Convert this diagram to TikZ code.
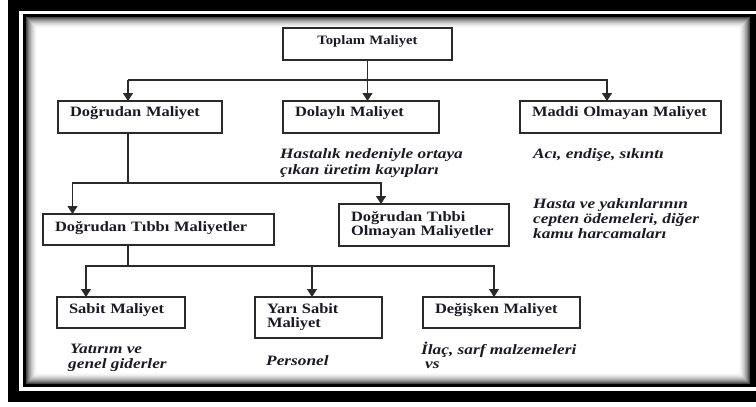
\documentclass[tikz,border=0pt]{standalone}
\usepackage{fontspec}
\setmainfont{Liberation Serif}[FakeStretch=1.15]
\newfontfamily\itf{Liberation Serif}[FakeStretch=1.21]
\usetikzlibrary{arrows.meta,calc}
\definecolor{txt}{HTML}{1A1A26}
\definecolor{lnc}{HTML}{2A2A2A}
\begin{document}
\begin{tikzpicture}[x=1pt,y=-1pt,
 bx/.style={draw=lnc, line width=1.3pt, inner xsep=12pt, inner ysep=0pt, outer sep=0pt, align=left, anchor=base west, text=txt, font=\fontsize{14.3}{14}\selectfont\bfseries},
 note/.style={anchor=base west, inner sep=0pt, text=txt, font=\itf\fontsize{14.3}{15.5}\selectfont\bfseries\itshape},
 ln/.style={draw=lnc, line width=1.2pt},
 arr/.style={ln, -{Triangle[length=8pt,width=10pt]}}]
\useasboundingbox (0,0) rectangle (756,407);
\begin{scope}
\clip (0,0) rectangle (756,407);
\fill[white] (0,0) rectangle (756,407);
\fill[black] (8,-5) rectangle (770,402);
\fill[white] (19,11) rectangle (770,391);
\fill[black] (23,14) rectangle (760,387);
\foreach \i in {0,...,11}{
  \pgfmathsetmacro\g{72*(1-\i/12)^2}
  \fill[black!\g] ({26+\i},{17+\i}) rectangle ({750-\i},{384-\i});
}
\fill[white] (38,29) rectangle (738,372);
\end{scope}

% boxes
\node[bx, align=center, text width=169pt, inner xsep=0pt, text height=16pt, text depth=16pt, font=\fontsize{12.8}{14}\selectfont\bfseries] (top) at (283,44) {Toplam Maliyet};
\node[bx, text width=140pt, text height=15.5pt, text depth=16.5pt] (dm) at (58,116.5) {Doğrudan Maliyet};
\node[bx, text width=132pt, text height=15.5pt, text depth=16.5pt] (dol) at (283,116.5) {Dolaylı Maliyet};
\node[bx, text width=177pt, text height=15.5pt, text depth=16.5pt] (mad) at (520,116.5) {\mbox{Maddi Olmayan Maliyet}};
\node[bx, text width=207pt, text height=17pt, text depth=14pt] (dtm) at (43,231) {Doğrudan Tıbbı Maliyetler};
\node[bx, text width=146pt, text height=17pt, text depth=25pt] (dtom) at (339,221) {Doğrudan Tıbbi\\\mbox{Olmayan Maliyetler}};
\node[bx, text width=104pt, text height=16.5pt, text depth=14.5pt] (sab) at (57,313.5) {Sabit Maliyet};
\node[bx, text width=103pt, text height=16.5pt, text depth=24.5pt] (yar) at (255,313.5) {Yarı Sabit\\Maliyet};
\node[bx, text width=133pt, text height=16.5pt, text depth=14.5pt] (deg) at (423,313.5) {Değişken Maliyet};

% notes
\node[note] (n1a) at (280,158) {Hastalık nedeniyle ortaya};
\node[note] (n1b) at (280,174) {çıkan üretim kayıpları};
\node[note] (n2) at (533,158) {Acı, endişe, sıkıntı};
\node[note] (n3a) at (533,208) {Hasta ve yakınlarının};
\node[note] (n3b) at (533,223.5) {cepten ödemeleri, diğer};
\node[note] (n3c) at (533,238.5) {kamu harcamaları};
\node[note] (n4a) at (70,353) {Yatırım ve};
\node[note] (n4b) at (68,368) {genel giderler};
\node[note] (n5) at (266,365) {Personel};
\node[note] (n6a) at (421,354) {İlaç, sarf malzemeleri};
\node[note] (n6b) at (425,368) {vs};

% connectors
\coordinate (y1) at (0,80);
\coordinate (y2) at (0,183);
\coordinate (y3) at (0,266);
\draw[arr] (top.south) -- (top.south |- dol.north);
\coordinate (a1) at ([xshift=-12pt]dm.north);
\coordinate (a2) at ([xshift=-13.5pt]mad.north);
\draw[arr] (a1 |- y1) -- (a1);
\draw[arr] (a1 |- y1) -| (a2);

\coordinate (b0) at ([xshift=-12pt]dm.south);
\coordinate (b1) at ([xshift=-86pt]dtm.north);
\coordinate (b2) at ([xshift=-43pt]dtom.north);
\draw[ln] (b0) -- (b0 |- y2);
\draw[arr] (b0 |- y2) -| (b1);
\draw[arr] (b0 |- y2) -| (b2);

\coordinate (c0) at ([xshift=-30.5pt]dtm.south);
\coordinate (c1) at ([xshift=-35pt]sab.north);
\coordinate (c2) at ([xshift=-6.5pt]yar.north);
\coordinate (c3) at ([xshift=-7.5pt]deg.north);
\draw[ln] (c0) -- (c0 |- y3);
\draw[arr] (c0 |- y3) -| (c1);
\draw[arr] (c0 |- y3) -| (c2);
\draw[arr] (c0 |- y3) -| (c3);
\end{tikzpicture}
\end{document}
